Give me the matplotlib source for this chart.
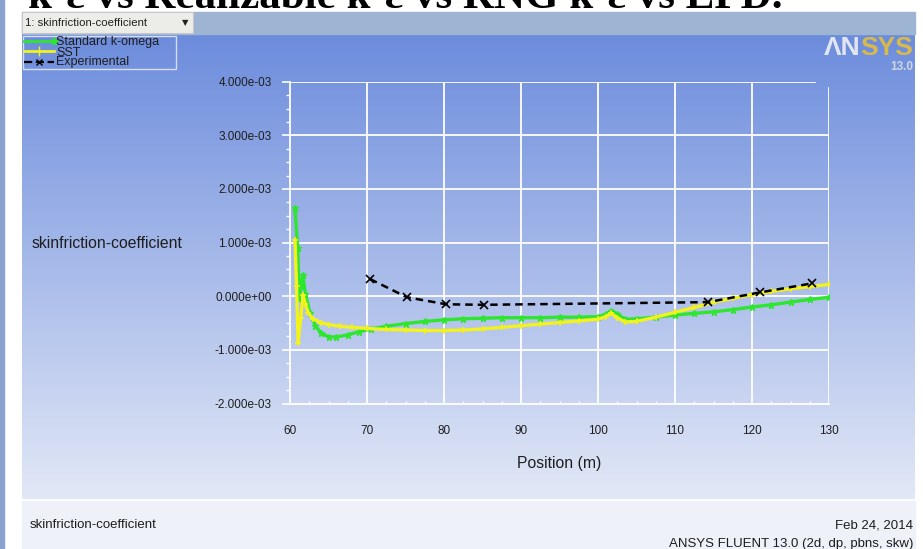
import numpy as np
import matplotlib
matplotlib.use("Agg")
import matplotlib.pyplot as plt
from matplotlib.ticker import MultipleLocator, FuncFormatter
from matplotlib.patches import Rectangle

# skin friction along the wall, values in units of 1e-3
std_komega_x = [60.65, 61.0, 61.2, 61.45, 61.65, 62.0, 62.6, 63.3, 64.0, 65.0,
                66.0, 67.5, 69.0, 70.5, 72.5, 75.0, 77.5, 80.0, 82.5, 85.0,
                87.5, 90.0, 92.5, 95.0, 97.5, 100.0, 101.0, 101.7, 102.5, 103.5,
                105.0, 107.5, 110.0, 112.5, 115.0, 117.5, 120.0, 122.5, 125.0,
                127.5, 130.0]
std_komega_cf = [1.64, 0.90, -0.05, 0.20, 0.40, 0.05, -0.32, -0.55, -0.68, -0.76,
                 -0.76, -0.72, -0.66, -0.61, -0.56, -0.51, -0.47, -0.44, -0.42, -0.41,
                 -0.40, -0.40, -0.40, -0.39, -0.39, -0.38, -0.34, -0.27, -0.33, -0.43,
                 -0.42, -0.39, -0.35, -0.32, -0.29, -0.25, -0.20, -0.16, -0.11,
                 -0.06, -0.02]

sst_x = [60.65, 60.85, 61.05, 61.4, 61.7, 62.0, 62.4, 63.0, 64.0, 65.0,
         66.5, 68.0, 70.0, 72.5, 75.0, 77.5, 80.0, 82.5, 85.0, 87.5,
         90.0, 92.5, 95.0, 97.5, 100.0, 101.0, 101.7, 102.5, 103.5, 105.0,
         107.5, 110.0, 112.5, 115.0, 117.5, 120.0, 122.5, 125.0, 127.5, 130.0]
sst_cf = [1.04, 0.20, -0.88, -0.40, 0.02, -0.15, -0.32, -0.42, -0.49, -0.53,
          -0.56, -0.58, -0.60, -0.62, -0.63, -0.64, -0.64, -0.63, -0.61, -0.58,
          -0.55, -0.52, -0.49, -0.46, -0.43, -0.38, -0.32, -0.40, -0.48, -0.47,
          -0.39, -0.30, -0.21, -0.11, -0.04, 0.03, 0.09, 0.14, 0.18, 0.22]

exp_x = [70.4, 75.2, 80.3, 85.2, 114.3, 121.0, 127.8]
exp_cf = [0.32, -0.02, -0.15, -0.16, -0.11, 0.07, 0.24]

x_ticks = [60, 70, 80, 90, 100, 110, 120, 130]
y_ticks = [-0.002, -0.001, 0.0, 0.001, 0.002, 0.003, 0.004]

GREEN = "#2ee62e"
YELLOW = "#f2f21e"
TXT = "#1e1e1e"
SANS = "Liberation Sans"

W, H = 923, 549
fig = plt.figure(figsize=(W / 100, H / 100), dpi=100)
fig.patch.set_facecolor("white")

# background canvas in pixel coordinates
bg = fig.add_axes([0, 0, 1, 1])
bg.set_xlim(0, W)
bg.set_ylim(H, 0)
bg.axis("off")

top = np.array([108, 140, 220]) / 255
bot = np.array([226, 232, 246]) / 255
t = np.linspace(0, 1, 256)[:, None]
grad = (top * (1 - t) + bot * t)[:, None, :]
bg.imshow(grad, extent=[22, 915, 500, 34], aspect="auto", zorder=0)
bg.add_patch(Rectangle((22, 500), 893, 49, color="#eef1f8", zorder=0))
bg.plot([22, 915], [500, 500], color="white", lw=1.2, zorder=1)
bg.add_patch(Rectangle((0, 0), 4, H, color="#8aa2d0", zorder=1))

# window toolbar with the plot selector
bg.add_patch(Rectangle((22, 12), 893, 22, color="#9db4d2", zorder=1))
bg.add_patch(Rectangle((22, 12), 171, 21, facecolor="#ececE8",
                       edgecolor="#c8c8c8", lw=0.8, zorder=2))
bg.text(25, 22.5, "1: skinfriction-coefficient", fontsize=8.2, family=SANS,
        color="#202020", va="center", ha="left", zorder=3)
bg.text(185, 23, "\u25bc", fontsize=6, family="DejaVu Sans",
        color="#202020", va="center", ha="center", zorder=3)

# clipped heading above the window
bg.text(28, 8, "k-\u03b5 vs Realizable k-\u03b5 vs RNG k-\u03b5 vs EPD.",
        fontsize=31, family="Liberation Serif", fontweight="bold",
        color="black", va="baseline", ha="left", zorder=3)

# logo
bg.text(860, 48, "\u039bN", fontsize=19, family=SANS, fontweight="bold",
        color="#e2e6f0", va="center", ha="right", zorder=3)
bg.text(860, 48, "SYS", fontsize=19, family=SANS, fontweight="bold",
        color="#d8b94c", va="center", ha="left", zorder=3)
bg.text(913, 67, "13.0", fontsize=8.5, family=SANS, fontweight="bold",
        color="#cfd5e2", va="center", ha="right", zorder=3)

# legend box
bg.add_patch(Rectangle((23, 36), 153, 33, facecolor="none",
                       edgecolor="#d4ddf2", lw=1.0, zorder=2))
bg.plot([24, 54], [41, 41], color=GREEN, lw=2, marker="*", markevery=[1],
        ms=6, zorder=3)
bg.plot([24, 39, 54], [51, 51, 51], color=YELLOW, lw=2, marker="|",
        markevery=[1], ms=7, zorder=3)
bg.plot([24, 39, 54], [62, 62, 62], color="black", lw=1.6, ls="--",
        marker="x", markevery=[1], ms=5, zorder=3)
bg.text(56, 42.5, "Standard k-omega", fontsize=9, family=SANS, color=TXT,
        va="center", zorder=3)
bg.text(56, 52.5, "SST", fontsize=9, family=SANS, color=TXT,
        va="center", zorder=3)
bg.text(56, 62.5, "Experimental", fontsize=9, family=SANS, color=TXT,
        va="center", zorder=3)

# footer
bg.text(30, 525, "skinfriction-coefficient", fontsize=9.5, family=SANS,
        color=TXT, va="center", ha="left", zorder=3)
bg.text(913, 525, "Feb 24, 2014", fontsize=9.5, family=SANS,
        color=TXT, va="center", ha="right", zorder=3)
bg.text(913, 544, "ANSYS FLUENT 13.0 (2d, dp, pbns, skw)", fontsize=9.5,
        family=SANS, color=TXT, va="center", ha="right", zorder=3)

# y axis title sits horizontally left of the axis
bg.text(32, 243, "skinfriction-coefficient", fontsize=11.3, family=SANS,
        color=TXT, va="center", ha="left", zorder=3)

# main plot
x0, x1, y0, y1 = 290, 829, 81.7, 403.5
ax = fig.add_axes([x0 / W, 1 - y1 / H, (x1 - x0) / W, (y1 - y0) / H])
ax.set_facecolor("none")
ax.set_xlim(60, 130)
ax.set_ylim(-0.002, 0.004)

gw = 1.3
for yv in y_ticks[1:-1]:
    ax.axhline(yv, color="white", lw=gw, zorder=1)
ax.axhline(y_ticks[-1], xmin=0, xmax=(815 - x0) / (x1 - x0), color="white",
           lw=gw, zorder=1)
for xv in x_ticks[1:-1]:
    ax.axvline(xv, color="white", lw=gw, zorder=1)
ax.axvline(x_ticks[-1], ymin=0, ymax=(y1 - 88) / (y1 - y0), color="white",
           lw=gw, zorder=1)

for side in ("top", "right"):
    ax.spines[side].set_visible(False)
for side in ("left", "bottom"):
    ax.spines[side].set_color("white")
    ax.spines[side].set_linewidth(gw)

scale = 1e-3
ax.plot(std_komega_x, np.array(std_komega_cf) * scale, color=GREEN, lw=2.4,
        marker="*", ms=5, zorder=3)
ax.plot(sst_x, np.array(sst_cf) * scale, color=YELLOW, lw=2.4,
        marker="+", ms=5, mew=1.2, zorder=3)
ax.plot(exp_x, np.array(exp_cf) * scale, color="black", lw=1.8, ls="--",
        dashes=(3, 2), marker="x", ms=6, mew=1.2, zorder=4)

ax.set_xticks(x_ticks)
ax.set_yticks(y_ticks)
ax.xaxis.set_minor_locator(MultipleLocator(2.5))
ax.yaxis.set_minor_locator(MultipleLocator(0.00025))
ax.yaxis.set_major_formatter(FuncFormatter(lambda v, p: "%.3e" % v))
ax.tick_params(axis="y", which="major", direction="out", length=5.8,
               width=1.2, color="white", pad=7.5, labelsize=8.5,
               labelcolor=TXT)
ax.tick_params(axis="y", which="minor", direction="out", length=3,
               width=1, color="white")
ax.tick_params(axis="x", which="major", length=0, pad=15.5, labelsize=8.5,
               labelcolor=TXT)
ax.tick_params(axis="x", which="minor", direction="in", length=2.2,
               width=1, color="white")
for lab in ax.get_xticklabels() + ax.get_yticklabels():
    lab.set_family(SANS)

ax.set_xlabel("Position (m)", fontsize=11.3, family=SANS, color=TXT,
              labelpad=14)

fig.savefig("out.png", dpi=100)
